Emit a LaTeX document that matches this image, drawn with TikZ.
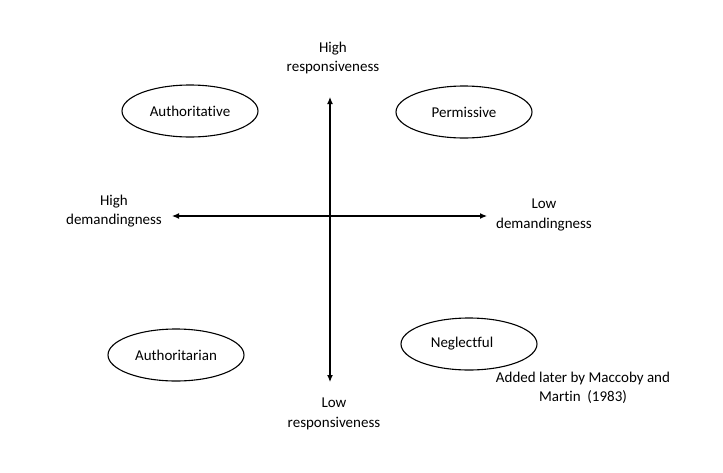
\documentclass[tikz,border=0pt]{standalone}
\usepackage{fontspec}
\setmainfont{Carlito}[Ligatures=NoCommon]
\usetikzlibrary{arrows.meta,shapes.geometric}
\begin{document}
\begin{tikzpicture}[x=1pt,y=-1pt,
  lbl/.style={align=center,font=\fontsize{15}{19.5}\selectfont,inner sep=0pt},
  style/.style={draw,ellipse,line width=1.1pt,minimum width=136pt,minimum height=52pt,inner sep=0pt,font=\fontsize{15}{19.5}\selectfont},
  axis/.style={line width=1.2pt,{Latex[length=7pt,width=6pt]}-{Latex[length=7pt,width=6pt]}}]
\useasboundingbox (0,0) rectangle (723,472);
\node[lbl] (hr) at (333,58) {High\\responsiveness};
\node[lbl] (lr) at (334,414) {Low\\responsiveness};
\node[lbl] (hd) at (114,211) {High\\demandingness};
\node[lbl] (ld) at (544,215) {Low\\demandingness};
\coordinate (top) at (330,97);
\coordinate (bot) at (330,382);
\coordinate (left) at (172,216);
\coordinate (right) at (487,216);
\draw[axis] (top) -- (bot);
\draw[axis] (left) -- (right);
\node[style] (a1) at (190,111) {Authoritative};
\node[style] (a2) at (464,112) {Permissive};
\node[style] (a3) at (176,355) {Authoritarian};
\node[style] (a4) at (469,344) {\hspace*{-14pt}Neglectful};
\node[lbl] (note) at (583,388) {Added later by Maccoby and\\Martin~~(1983)};
\end{tikzpicture}
\end{document}
